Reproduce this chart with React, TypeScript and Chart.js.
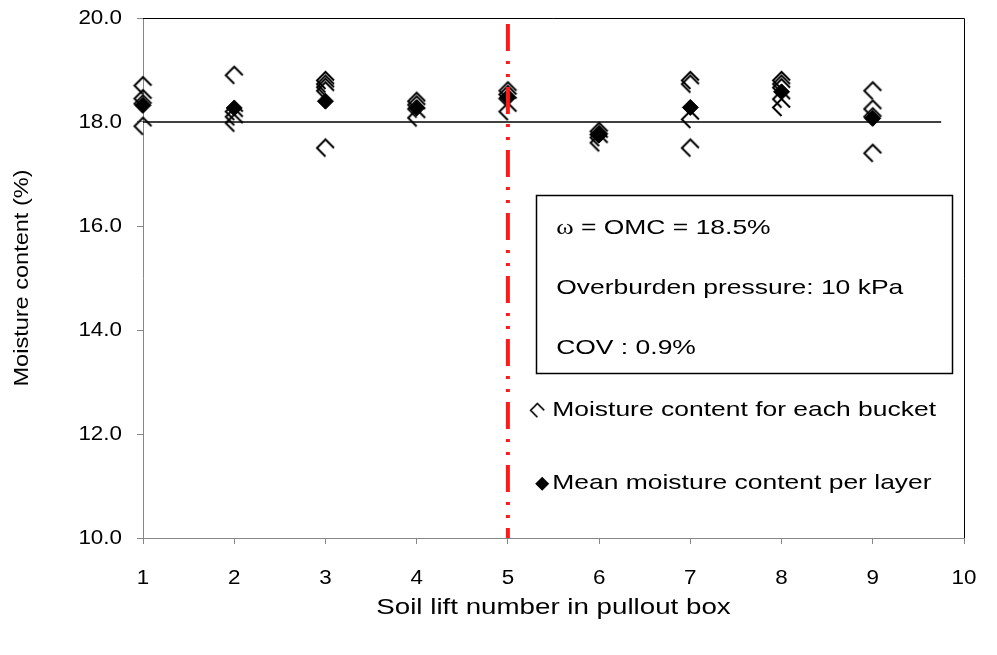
import React, { useEffect, useRef } from 'react';
import { Chart, registerables } from 'chart.js';

Chart.register(...registerables);

// ---- data ----
const layers = [1, 2, 3, 4, 5, 6, 7, 8, 9];
const bucketMoisture = [
  [18.7, 18.45, 18.35, 17.92],
  [18.9, 18.2, 18.1, 17.98],
  [18.8, 18.73, 18.67, 18.6, 17.5],
  [18.4, 18.33, 18.25, 18.08],
  [18.6, 18.53, 18.45, 18.2],
  [17.82, 17.76, 17.7, 17.6],
  [18.8, 18.73, 18.05, 17.5],
  [18.8, 18.73, 18.66, 18.44, 18.28],
  [18.6, 18.25, 18.1, 17.4],
];
const meanMoisture = [18.32, 18.27, 18.4, 18.27, 18.47, 17.75, 18.28, 18.58, 18.07];
const referenceLevel = 18.0;
const referenceLineX = [1, 9.75];
const dividerX = 5;
const xRange = [1, 10];
const yRange = [10, 20];
const infoLines = ['= OMC = 18.5%', 'Overburden pressure: 10 kPa', 'COV : 0.9%'];
const legendLabels = ['Moisture content for each bucket', 'Mean moisture content per layer'];
const xTitle = 'Soil lift number in pullout box';
const yTitle = 'Moisture content (%)';

const FONT = "'Liberation Sans', Arial, sans-serif";
const WIDE = 1.26; // glyph width factor of the wide reference lettering

function makeOpenDiamond(r: number, lw: number): HTMLCanvasElement {
  const size = Math.ceil(2 * r + lw * 2 + 2);
  const c = document.createElement('canvas');
  c.width = size;
  c.height = size;
  const ctx = c.getContext('2d')!;
  const cx = size / 2;
  const cy = size / 2;
  ctx.strokeStyle = '#000';
  ctx.lineWidth = lw;
  ctx.lineJoin = 'miter';
  ctx.beginPath();
  ctx.moveTo(cx, cy + r);
  ctx.lineTo(cx - r, cy);
  ctx.lineTo(cx, cy - r);
  ctx.lineTo(cx + r, cy);
  ctx.stroke();
  return c;
}

function drawText(
  ctx: CanvasRenderingContext2D,
  s: string,
  x: number,
  y: number,
  align: CanvasTextAlign,
  size: number,
  sx = WIDE,
  rot = 0,
  family = FONT,
): number {
  ctx.save();
  ctx.translate(x, y);
  ctx.rotate(rot);
  ctx.scale(sx, 1);
  ctx.font = `${size}px ${family}`;
  ctx.textAlign = align;
  ctx.textBaseline = 'middle';
  ctx.fillStyle = '#000';
  ctx.fillText(s, 0, 0);
  const w = ctx.measureText(s).width * sx;
  ctx.restore();
  return w;
}

export default function App() {
  const ref = useRef<HTMLCanvasElement | null>(null);

  useEffect(() => {
    if (!ref.current) return;
    const openDiamond = makeOpenDiamond(8.5, 2);

    const bucketPoints: { x: number; y: number }[] = [];
    layers.forEach((l, i) => bucketMoisture[i].forEach((v) => bucketPoints.push({ x: l, y: v })));
    const meanPoints = layers.map((l, i) => ({ x: l, y: meanMoisture[i] }));

    const overlay = {
      id: 'overlay',
      afterDraw(chart: any) {
        const { ctx, chartArea: a, scales } = chart;
        const xs = scales.x;
        const ys = scales.y;
        ctx.save();
        // top/right frame
        ctx.strokeStyle = '#000';
        ctx.lineWidth = 1;
        ctx.beginPath();
        ctx.moveTo(a.left, a.top + 0.5);
        ctx.lineTo(a.right + 0.5, a.top + 0.5);
        ctx.lineTo(a.right + 0.5, a.bottom);
        ctx.stroke();

        // tick labels
        ys.ticks.forEach((t: any) => {
          drawText(ctx, Number(t.value).toFixed(1), a.left - 21, ys.getPixelForValue(t.value), 'right', 20, 1.12);
        });
        xs.ticks.forEach((t: any) => {
          drawText(ctx, String(t.value), xs.getPixelForValue(t.value), a.bottom + 40, 'center', 20, 1.12);
        });
        // axis titles
        drawText(ctx, xTitle, (a.left + a.right) / 2, a.bottom + 70, 'center', 22);
        drawText(ctx, yTitle, 22, (a.top + a.bottom) / 2, 'center', 21, 1.12, -Math.PI / 2);

        // info box
        const bx0 = xs.getPixelForValue(5.31);
        const bx1 = xs.getPixelForValue(9.87);
        const by0 = ys.getPixelForValue(16.6);
        const by1 = ys.getPixelForValue(13.18);
        ctx.fillStyle = '#fff';
        ctx.fillRect(bx0, by0, bx1 - bx0, by1 - by0);
        ctx.strokeStyle = '#000';
        ctx.lineWidth = 1.5;
        ctx.strokeRect(Math.round(bx0) + 0.5, Math.round(by0) + 0.5, Math.round(bx1 - bx0), Math.round(by1 - by0));
        const tx = bx0 + 20;
        infoLines.forEach((t, i) => {
          const ty = by0 + 33 + i * 60;
          if (i === 0) {
            const w = drawText(ctx, '\u03c9', tx, ty + 1, 'left', 21, WIDE, 0, "'Liberation Serif', serif");
            drawText(ctx, ' ' + t, tx + w, ty, 'left', 21);
          } else {
            drawText(ctx, t, tx, ty, 'left', 21);
          }
        });

        // legend
        const lx = bx0 + 3;
        const ly1 = by1 + 38;
        const ly2 = by1 + 111;
        ctx.drawImage(openDiamond, lx - openDiamond.width / 2 + 0.5, ly1 - openDiamond.height / 2 + 2, openDiamond.width * 0.8, openDiamond.height * 0.8);
        ctx.fillStyle = '#000';
        ctx.beginPath();
        const r = 7;
        ctx.moveTo(lx + 3, ly2 - r);
        ctx.lineTo(lx + 3 + r, ly2);
        ctx.lineTo(lx + 3, ly2 + r);
        ctx.lineTo(lx + 3 - r, ly2);
        ctx.closePath();
        ctx.fill();
        drawText(ctx, legendLabels[0], lx + 13, ly1, 'left', 21);
        drawText(ctx, legendLabels[1], lx + 13, ly2, 'left', 21);
        ctx.restore();
      },
    };

    const chart = new Chart(ref.current, {
      type: 'scatter',
      data: {
        datasets: [
          {
            type: 'line',
            label: 'divider',
            data: [
              { x: dividerX, y: yRange[1] },
              { x: dividerX, y: yRange[0] },
            ],
            borderColor: '#ff1a1a',
            borderWidth: 4,
            borderDash: [27, 10, 3, 10, 3, 10],
            borderDashOffset: 57,
            pointRadius: 0,
            fill: false,
          } as any,
          {
            label: legendLabels[1],
            data: meanPoints,
            pointStyle: 'rectRot',
            pointRadius: 8,
            backgroundColor: '#000',
            borderColor: '#000',
            borderWidth: 1,
            clip: false,
          } as any,
          {
            label: legendLabels[0],
            data: bucketPoints,
            pointStyle: openDiamond as any,
            pointRadius: 8,
            clip: false,
          } as any,
          {
            type: 'line',
            label: 'reference',
            data: referenceLineX.map((x) => ({ x, y: referenceLevel })),
            borderColor: '#000',
            borderWidth: 1.5,
            pointRadius: 0,
            fill: false,
          } as any,
        ],
      },
      options: {
        animation: false,
        responsive: false,
        maintainAspectRatio: false,
        layout: { padding: { left: 0, top: 18, right: 33, bottom: 0 } },
        plugins: { legend: { display: false }, tooltip: { enabled: false } },
        scales: {
          x: {
            type: 'linear',
            min: xRange[0],
            max: xRange[1],
            ticks: { stepSize: 1, display: false },
            grid: { drawOnChartArea: false, drawTicks: true, tickLength: 6, color: '#868686' },
            border: { display: true, color: '#868686', width: 1 },
            title: { display: false, text: xTitle },
            afterFit: (s: any) => { s.height = 117; s.paddingLeft = 0; s.paddingRight = 0; },
          },
          y: {
            type: 'linear',
            min: yRange[0],
            max: yRange[1],
            ticks: { stepSize: 2, display: false },
            grid: { drawOnChartArea: false, drawTicks: true, tickLength: 6, color: '#868686' },
            border: { display: true, color: '#868686', width: 1 },
            title: { display: false, text: yTitle },
            afterFit: (s: any) => { s.width = 143; s.paddingTop = 0; s.paddingBottom = 0; },
          },
        },
      },
      plugins: [overlay],
    });
    return () => chart.destroy();
  }, []);

  return (
    <div style={{ position: 'fixed', left: 0, top: 0, width: 997, height: 655, background: '#fff' }}>
      <canvas ref={ref} width={997} height={655} style={{ width: 997, height: 655, display: 'block' }} />
    </div>
  );
}
